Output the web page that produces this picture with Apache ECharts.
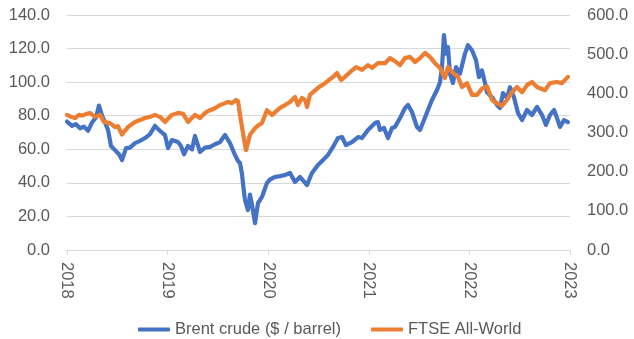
<!DOCTYPE html>
<html>
<head>
<meta charset="utf-8">
<script src="https://cdn.jsdelivr.net/npm/echarts@6/dist/echarts.min.js"></script>
<style>html,body{margin:0;padding:0;background:#fff}#c{width:634px;height:339px}</style>
</head>
<body>
<div id="c"></div>
<script>
const seriesNames = ["Brent crude ($ / barrel)", "FTSE All-World"];
const yearTicks = [2018, 2019, 2020, 2021, 2022, 2023];

const brentX = [2018.000,2018.050,2018.089,2018.129,2018.169,2018.209,2018.249,2018.288,2018.318,2018.348,2018.378,2018.408,2018.437,2018.477,2018.517,2018.547,2018.587,2018.626,2018.676,2018.726,2018.776,2018.825,2018.875,2018.905,2018.944,2018.974,2019.004,2019.044,2019.103,2019.133,2019.163,2019.203,2019.243,2019.272,2019.322,2019.372,2019.422,2019.471,2019.521,2019.571,2019.620,2019.670,2019.700,2019.720,2019.740,2019.749,2019.769,2019.799,2019.819,2019.839,2019.869,2019.899,2019.938,2019.988,2020.018,2020.068,2020.117,2020.167,2020.217,2020.266,
  2020.316,2020.386,2020.435,2020.495,2020.565,2020.594,2020.644,2020.694,2020.734,2020.773,2020.833,2020.893,2020.932,2020.992,2021.062,2021.091,2021.111,2021.151,2021.191,2021.231,2021.260,2021.310,2021.360,2021.390,2021.429,2021.479,2021.509,2021.549,2021.588,2021.628,2021.678,2021.708,2021.728,2021.747,2021.767,2021.787,2021.807,2021.837,2021.867,2021.906,2021.956,2021.986,2022.026,2022.066,2022.095,2022.125,2022.155,2022.175,2022.225,2022.274,2022.304,2022.334,2022.374,2022.404,2022.443,2022.483,2022.523,2022.573,2022.622,2022.672,2022.722,2022.761,2022.801,2022.841,2022.871,2022.901,2022.940,2022.980];
const brentY = [76.5,74,75,72.5,73.5,71,76,79,86,80,76,71.5,62,59.5,57,53.6,60.7,61,63.7,65,66.7,69,74,72,70,68.5,60.7,65.5,64.3,62,57,62,60,68,58.4,61,61.4,63,64.3,68.5,63.7,56.6,53,51.8,45,39.9,29.8,23.8,33,27,16,28,31.6,40,42,43.5,44,44.7,45.9,40.5,
  43.5,38.7,45.9,50.6,54.8,56.6,61.4,66.7,67.3,62.5,64.3,67.3,66.7,71.5,75.6,76.2,71.5,72.7,66.7,72.7,73.3,78.6,84.6,86.4,82.2,73.3,71.5,77.4,83.4,89.4,95.3,100,109,128,117,121,105,99.5,109,105,117,122,119,113,103,107,99.5,94,91,86.4,84.6,93.5,90.6,97,91,81.6,77.4,83.4,80.4,85.2,80.4,74.5,80.4,83.4,78.6,73.3,77.4,76.2];

const ftseX = [2018.000,2018.040,2018.080,2018.119,2018.149,2018.189,2018.229,2018.278,2018.328,2018.368,2018.427,2018.477,2018.507,2018.547,2018.577,2018.606,2018.676,2018.726,2018.776,2018.825,2018.875,2018.924,2018.974,2019.004,2019.044,2019.103,2019.153,2019.203,2019.272,2019.322,2019.372,2019.422,2019.471,2019.521,2019.571,2019.600,2019.640,2019.680,2019.700,2019.720,2019.749,2019.779,2019.819,2019.869,2019.899,2019.938,2019.988,2020.038,2020.117,2020.167,2020.217,2020.266,2020.296,
  2020.336,2020.366,2020.386,2020.415,2020.495,2020.565,2020.644,2020.684,2020.724,2020.763,2020.813,2020.873,2020.932,2020.992,2021.032,2021.091,2021.161,2021.211,2021.260,2021.310,2021.360,2021.410,2021.459,2021.509,2021.559,2021.608,2021.658,2021.708,2021.757,2021.787,2021.837,2021.887,2021.926,2021.976,2022.026,2022.076,2022.125,2022.175,2022.225,2022.274,2022.324,2022.374,2022.423,2022.473,2022.523,2022.573,2022.622,2022.672,2022.751,2022.801,2022.871,2022.920,2022.980];
const ftseY = [345,340,337,345,343,347,350,340,345,327,324,314,316,295,305,314,327,332,337,340,345,340,327,335,345,350,348,327,345,337,350,357,362,370,375,378,375,383,380,345,299,255,294,311,318,324,357,345,363,370,378,391,370,
  388,383,365,396,414,426,442,452,434,442,454,467,460,472,465,477,477,490,482,472,490,493,480,490,503,493,477,465,439,467,452,442,416,426,396,396,412,418,383,375,368,383,403,416,403,421,429,416,408,426,429,426,442];

const brentData = brentX.map((x, i) => [x, brentY[i]]);
const ftseData = ftseX.map((x, i) => [x, ftseY[i]]);

const FONT = "'Liberation Sans', Arial, sans-serif";
const TXT = '#595959';
const GRID = '#D9D9D9';
const FS = 16.5;

const chart = echarts.init(document.getElementById('c'), null, {renderer: 'canvas'});
chart.setOption({
  animation: false,
  backgroundColor: '#ffffff',
  grid: {left: 67, right: 64, top: 15, bottom: 89, containLabel: false},
  legend: {
    top: 316,
    left: 133,
    itemWidth: 32,
    itemHeight: 4,
    itemGap: 30,
    icon: 'roundRect',
    textStyle: {color: TXT, fontSize: FS, fontFamily: FONT},
    data: seriesNames
  },
  xAxis: {
    type: 'value',
    min: yearTicks[0],
    max: yearTicks[yearTicks.length - 1],
    interval: 1,
    axisLine: {show: true, lineStyle: {color: GRID, width: 1}},
    axisTick: {show: true, length: 5, lineStyle: {color: GRID}},
    splitLine: {show: false},
    axisLabel: {rotate: -90, margin: 12, color: TXT, fontSize: FS, fontFamily: FONT, formatter: v => String(v)}
  },
  yAxis: [
    {
      type: 'value', min: 0, max: 140, interval: 20, position: 'left',
      axisLine: {show: false}, axisTick: {show: false},
      splitLine: {show: true, lineStyle: {color: GRID, width: 1}},
      axisLabel: {margin: 17, color: TXT, fontSize: FS, fontFamily: FONT, formatter: v => v.toFixed(1)}
    },
    {
      type: 'value', min: 0, max: 600, interval: 100, position: 'right',
      axisLine: {show: false}, axisTick: {show: false},
      splitLine: {show: false},
      axisLabel: {margin: 17, color: TXT, fontSize: FS, fontFamily: FONT, formatter: v => v.toFixed(1)}
    }
  ],
  series: [
    {
      name: seriesNames[0], type: 'line', yAxisIndex: 0, data: brentData,
      showSymbol: false, symbol: 'none', smooth: false,
      itemStyle: {color: '#4472C4'},
      lineStyle: {color: '#4472C4', width: 4.2, join: 'round', cap: 'round'}
    },
    {
      name: seriesNames[1], type: 'line', yAxisIndex: 1, data: ftseData,
      showSymbol: false, symbol: 'none', smooth: false,
      itemStyle: {color: '#ED7D31'},
      lineStyle: {color: '#ED7D31', width: 4.2, join: 'round', cap: 'round'}
    }
  ]
});
</script>
</body>
</html>
